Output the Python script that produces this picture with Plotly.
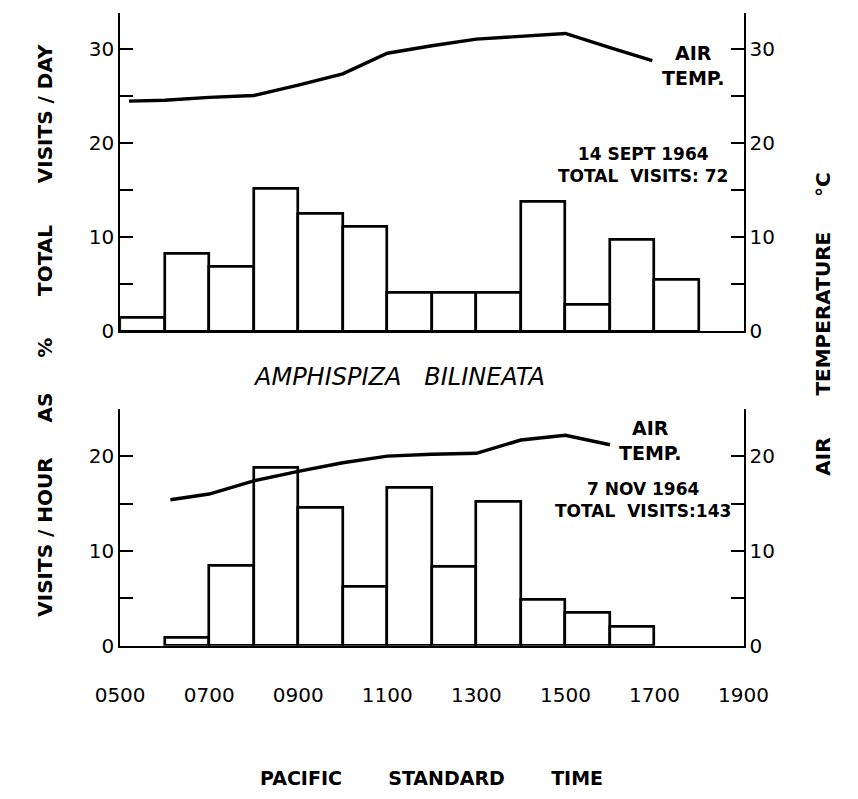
import plotly.graph_objects as go

W, H = 858, 799

# ---------------- data ----------------
# top panel: 14 Sept 1964 (hour-long bins starting at these hours)
sep_bin_start = [5, 6, 7, 8, 9, 10, 11, 12, 13, 14, 15, 16, 17]
sep_pct = [1.4, 8.3, 6.9, 15.2, 12.5, 11.1, 4.1, 4.1, 4.1, 13.8, 2.8, 9.7, 5.5]
sep_temp_time = [5.2, 6, 7, 8, 9, 10, 11, 12, 13, 14, 15, 16, 16.95]
sep_temp = [24.5, 24.6, 24.9, 25.1, 26.2, 27.4, 29.6, 30.4, 31.1, 31.4, 31.7, 30.2, 28.8]

# bottom panel: 7 Nov 1964
nov_bin_start = [6, 7, 8, 9, 10, 11, 12, 13, 14, 15, 16]
nov_pct = [0.8, 8.4, 18.8, 14.6, 6.2, 16.7, 8.3, 15.2, 4.8, 3.5, 2.0]
nov_temp_time = [6.13, 7, 8, 9, 10, 11, 12, 13, 14, 15, 16]
nov_temp = [15.4, 16.0, 17.4, 18.4, 19.3, 20.0, 20.2, 20.3, 21.7, 22.2, 21.2]

x_tickvals = [5, 7, 9, 11, 13, 15, 17, 19]
x_ticktext = ["0500", "0700", "0900", "1100", "1300", "1500", "1700", "1900"]

top_yticks = [0, 5, 10, 15, 20, 25, 30]
top_ylabels = ["0", "", "10", "", "20", "", "30"]
bot_yticks = [0, 5, 10, 15, 20, 25]
bot_ylabels = ["0", "", "10", "", "20", ""]

# ---------------- layout helpers ----------------
FONT = "DejaVu Sans"
def px_x(p):
    return p / W
def px_y(p):
    return 1 - p / H

x_dom = [px_x(101), px_x(763)]
top_dom = [px_y(336.5), px_y(13)]
bot_dom = [px_y(655.5), px_y(415)]

fig = go.Figure()

bar_style = dict(color="white", line=dict(color="black", width=2.7))
fig.add_trace(go.Bar(x=[h + 0.5 for h in sep_bin_start], y=sep_pct, width=1,
                     marker=bar_style, xaxis="x", yaxis="y", showlegend=False))
fig.add_trace(go.Scatter(x=sep_temp_time, y=sep_temp, mode="lines",
                         line=dict(color="black", width=3.4),
                         xaxis="x", yaxis="y3", showlegend=False))
fig.add_trace(go.Bar(x=[h + 0.5 for h in nov_bin_start], y=nov_pct, width=1,
                     marker=bar_style, xaxis="x2", yaxis="y2", showlegend=False))
fig.add_trace(go.Scatter(x=nov_temp_time, y=nov_temp, mode="lines",
                         line=dict(color="black", width=3.4),
                         xaxis="x2", yaxis="y4", showlegend=False))

axis_common = dict(showgrid=False, zeroline=False, showline=True,
                   linecolor="black", linewidth=2)
yax_common = dict(axis_common, ticks="inside", ticklen=13, tickwidth=2,
                  tickcolor="black", tickfont=dict(family=FONT, size=20, color="black"))

fig.update_layout(
    width=W, height=H,
    margin=dict(l=0, r=0, t=0, b=0),
    paper_bgcolor="white", plot_bgcolor="rgba(0,0,0,0)",
    barmode="overlay", bargap=0,
    xaxis=dict(axis_common, domain=x_dom, range=[5, 19], anchor="y",
               showticklabels=False, ticks=""),
    xaxis2=dict(axis_common, domain=x_dom, range=[5, 19], anchor="y2",
                tickvals=x_tickvals, ticktext=x_ticktext, ticks="",
                ticklabelstandoff=30,
                tickfont=dict(family=FONT, size=20, color="black")),
    yaxis=dict(yax_common, domain=top_dom, range=[0, 33.9], anchor="x",
               tickvals=top_yticks, ticktext=top_ylabels),
    yaxis3=dict(yax_common, range=[0, 33.9], anchor="x", overlaying="y",
                side="right", tickvals=top_yticks, ticktext=top_ylabels),
    yaxis2=dict(yax_common, domain=bot_dom, range=[0, 25], anchor="x2",
                tickvals=bot_yticks, ticktext=bot_ylabels),
    yaxis4=dict(yax_common, range=[0, 25], anchor="x2", overlaying="y2",
                side="right", tickvals=bot_yticks, ticktext=bot_ylabels),
)

def note(text, x, y, size=19, angle=0, italic=False, bold=True):
    fig.add_annotation(
        text=text, x=px_x(x), y=px_y(y), xref="paper", yref="paper",
        xanchor="center", yanchor="middle", showarrow=False, textangle=angle,
        font=dict(family=FONT, size=size, color="black",
                  style="italic" if italic else "normal",
                  weight="bold" if bold else "normal"),
    )

sp = "\u00a0"
note("AIR<br>TEMP.", 710, 67, size=19)
note("14 SEPT 1964<br>TOTAL" + sp * 2 + "VISITS: 72", 656, 167.5, size=17)
note("AIR<br>TEMP.", 664, 447, size=19)
note("7 NOV 1964<br>TOTAL" + sp * 2 + "VISITS:143", 656, 508, size=17)
note("AMPHISPIZA" + sp * 3 + "BILINEATA", 397, 383, size=24, italic=True, bold=False)
note("VISITS / HOUR" + sp * 5 + "AS" + sp * 5 + "%" + sp * 6 + "TOTAL" + sp * 6 + "VISITS / DAY",
     21, 335, size=20, angle=-90)
note("AIR" + sp * 6 + "TEMPERATURE" + sp * 5 + "°C", 847, 329, size=20, angle=-90)
note("PACIFIC" + sp * 7 + "STANDARD" + sp * 7 + "TIME", 432, 790, size=19)

fig.write_html("out.html")
